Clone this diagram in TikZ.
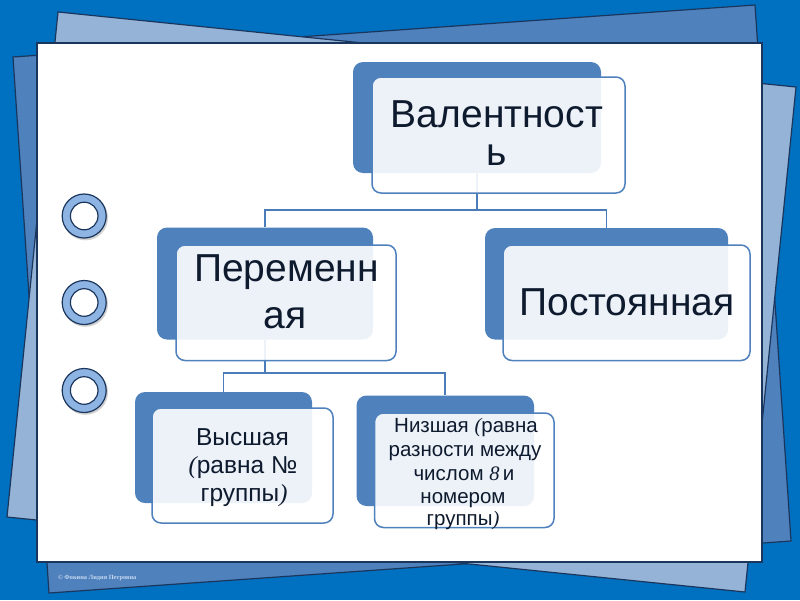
\documentclass[tikz,border=0pt]{standalone}
\usepackage{fontspec}
\setmainfont{Liberation Sans}
\newfontfamily\serfont{Liberation Serif}
\definecolor{bgblue}{HTML}{0070C0}
\definecolor{sheetdark}{HTML}{4F81BD}
\definecolor{sheetlight}{HTML}{95B3D7}
\definecolor{navyline}{HTML}{1B365D}
\definecolor{boxblue}{HTML}{4F81BD}
\definecolor{connblue}{HTML}{4A7CB9}
\definecolor{ringc}{HTML}{8EB4E3}
\definecolor{txt}{HTML}{0E1A2E}
\definecolor{footc}{HTML}{C6D9F1}
\begin{document}
\begin{tikzpicture}[x=1pt,y=-1pt,
  sheet/.style={draw=navyline, line width=1.2pt, line join=miter},
  backbox/.style={fill=boxblue, draw=none, rounded corners=10pt, inner sep=0pt, shape=rectangle},
  frontbox/.style={fill=white, fill opacity=0.9, draw=boxblue, draw opacity=1, line width=1.5pt, rounded corners=9pt, inner sep=0pt, shape=rectangle},
  conn/.style={draw=connblue, line width=1.6pt},
  big/.style={font=\fontsize{39}{39}\selectfont, text=txt, inner sep=0pt, anchor=base},
  mid/.style={font=\fontsize{24.5}{25}\selectfont, text=txt, inner sep=0pt, anchor=base},
  small/.style={font=\fontsize{20.5}{21}\selectfont, text=txt, inner sep=0pt, anchor=base},
  ring/.style={draw=navyline, line width=1.2pt, fill=ringc}
]
\useasboundingbox (0,0) rectangle (800,600);
\fill[bgblue] (0,0) rectangle (800,600);
% tilted sheets
\filldraw[sheet, fill=sheetdark] (13,57) -- (755,5) -- (791,541) -- (49,593) -- cycle;
\filldraw[sheet, fill=sheetlight] (58,12) -- (796,87) -- (745,592) -- (7,517) -- cycle;
% card
\filldraw[fill=white, draw=navyline, line width=1.3pt] (37,43) rectangle (762,562);
% rings
\foreach \cy in {216,302.5,390.5}{
  \fill[black, opacity=0.18] (85.5,\cy+1.8) circle (22.5);
  \filldraw[ring] (84.2,\cy) circle (22);
  \filldraw[draw=navyline, line width=1.2pt, fill=white] (84.2,\cy) circle (13.8);
}
% back boxes
\node[backbox, minimum width=248pt, minimum height=111pt] (b0) at (477,117.5) {};
\node[backbox, minimum width=216pt, minimum height=112pt] (b1) at (265,283.5) {};
\node[backbox, minimum width=243pt, minimum height=111.5pt] (b2) at (606.5,283.75) {};
\node[backbox, minimum width=177pt, minimum height=111pt] (b3) at (223.5,447.5) {};
\node[backbox, minimum width=177.5pt, minimum height=110.5pt] (b4) at (445.25,450.75) {};
% connectors
\coordinate (j0) at (b0.south |- 0,210);
\coordinate (j1) at (b1.south |- 0,373);
\draw[conn] (b0.south) -- (j0) -| (b1.north);
\draw[conn] (j0) -| (b2.north);
\draw[conn] (b1.south) -- (j1) -| (b3.north);
\draw[conn] (j1) -| (b4.north);
% front boxes
\node[frontbox, minimum width=253pt, minimum height=116pt] (f0) at (498.5,135) {};
\node[frontbox, minimum width=220pt, minimum height=115.5pt] (f1) at (286,302.75) {};
\node[frontbox, minimum width=247pt, minimum height=115.5pt] (f2) at (626.5,302.75) {};
\node[frontbox, minimum width=181pt, minimum height=115pt] (f3) at (242.5,465.5) {};
\node[frontbox, minimum width=179.5pt, minimum height=114.5pt] (f4) at (464.25,470.25) {};
% texts
\node[big] (t0a) at (497,127.5) {Валентност};
\node[big] (t0b) at (497,165) {ь};
\node[big] (t1a) at (286.5,281.7) {Переменн};
\node[big] (t1b) at (285,328.3) {ая};
\node[big] (t2) at (627,315) {Постоянная};
\node[mid] (t3a) at (242.5,445) {Высшая};
\node[mid] (t3b) at (243,473.3) {{\serfont\itshape(}равна №};
\node[mid] (t3c) at (244,501.7) {группы{\serfont\itshape)}};
\node[small] (t4a) at (466,432) {Низшая {\serfont\itshape(}равна};
\node[small] (t4b) at (465,456) {разности между};
\node[small] (t4c) at (464,480) {числом {\serfont\itshape 8}\,и};
\node[small] (t4d) at (463,503) {номером};
\node[small] (t4e) at (463,525) {группы{\serfont\itshape)}};
% footer
\node[anchor=base west, font=\serfont\bfseries\fontsize{6.3}{7}\selectfont, text=footc, inner sep=0pt] (foot) at (58,579) {© Фокина Лидия Петровна};
\end{tikzpicture}
\end{document}
